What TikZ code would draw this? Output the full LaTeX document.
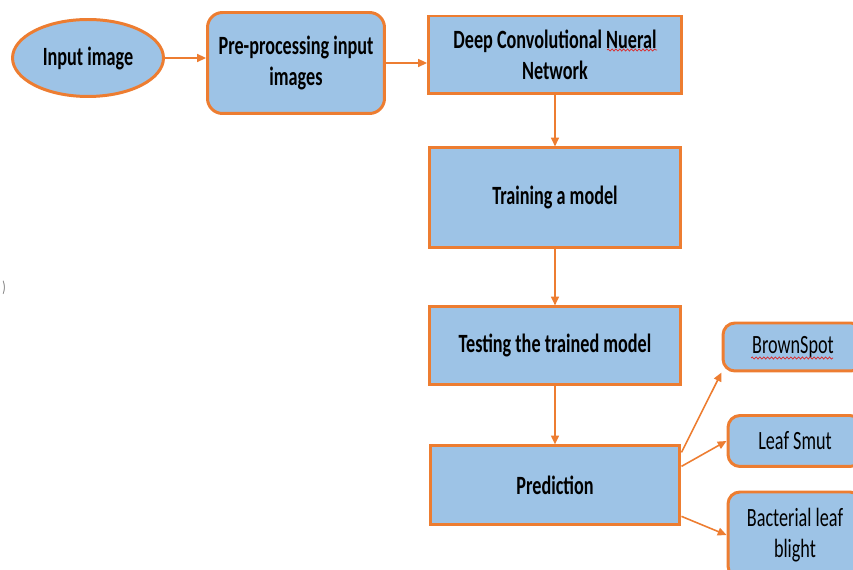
\documentclass[tikz,border=0pt]{standalone}
\usepackage{fontspec}
\setmainfont{Carlito}[FakeStretch=0.69]
\usepackage{tikz}
\usetikzlibrary{shapes.geometric,arrows.meta,positioning,decorations.pathmorphing}
\definecolor{boxBlue}{RGB}{157,195,230}
\definecolor{edgeOrange}{RGB}{237,125,49}
\definecolor{spellRed}{RGB}{220,40,40}

\begin{document}
\begin{tikzpicture}[x=0.02cm,y=-0.02cm,
  stage/.style={draw=edgeOrange,fill=boxBlue,line width=1.7pt,align=center,font=\fontsize{15}{17.6}\selectfont\bfseries,inner sep=2pt},
  cls/.style={stage,rounded corners=0.24cm,font=\fontsize{15}{17.6}\selectfont},
  arrow/.style={-{Triangle[length=5pt,width=4.5pt]},edgeOrange,line width=0.9pt},
  squiggle/.style={spellRed,line width=0.4pt,decorate,decoration={snake,segment length=2.2pt,amplitude=0.6pt}}
]
\useasboundingbox (0,0) rectangle (853,570);
\clip (0,0) rectangle (853,570);

% top row
\node[stage,ellipse,minimum width=3.02cm,minimum height=1.54cm,inner sep=0pt] (input) at (88,58) {Input image};
\node[stage,rounded corners=0.3cm,minimum width=3.54cm,minimum height=2.02cm] (prep) at (296,63) {Pre-processing input\\images};
\node[stage,minimum width=5.06cm,minimum height=1.56cm] (cnn) at (555,55) {Deep Convolutional Nueral\\Network};

% main column
\node[stage,minimum width=5.02cm,minimum height=2.0cm,below=1.02cm of cnn] (train) {Training a model};
\node[stage,minimum width=5.02cm,minimum height=1.56cm,below=1.12cm of train] (test) {Testing the trained model};
\node[stage,minimum width=5.0cm,minimum height=1.58cm,below=1.16cm of test] (pred) {Prediction};

% classes
\node[cls,minimum width=2.8cm,minimum height=0.96cm] (brown) at (793,347) {BrownSpot};
\node[cls,minimum width=2.68cm,minimum height=1.02cm] (smut) at (795,441) {Leaf Smut};
\node[cls,minimum width=2.68cm,minimum height=1.72cm] (blight) at (795,535) {Bacterial leaf\\blight};

\node[font=\small,text=black!55] (mark) at (4,288) {)};

\draw[arrow] (input.east) -- (input.east -| prep.west);
\draw[arrow] (prep.east) -- (prep.east -| cnn.west);
\draw[arrow] (cnn) -- (train);
\draw[arrow] (train) -- (test);
\draw[arrow] (test) -- (pred);
\draw[arrow] ([yshift=0.66cm]pred.east) -- (brown.south west);
\draw[arrow] ([yshift=0.38cm]pred.east) -- (smut.west);
\draw[arrow] ([yshift=-0.62cm]pred.east) -- (blight.west);

% spell-check marks
\draw[squiggle] (607,50) -- (657,50);
\draw[squiggle] (751,358) -- (833,358);
\end{tikzpicture}
\end{document}
